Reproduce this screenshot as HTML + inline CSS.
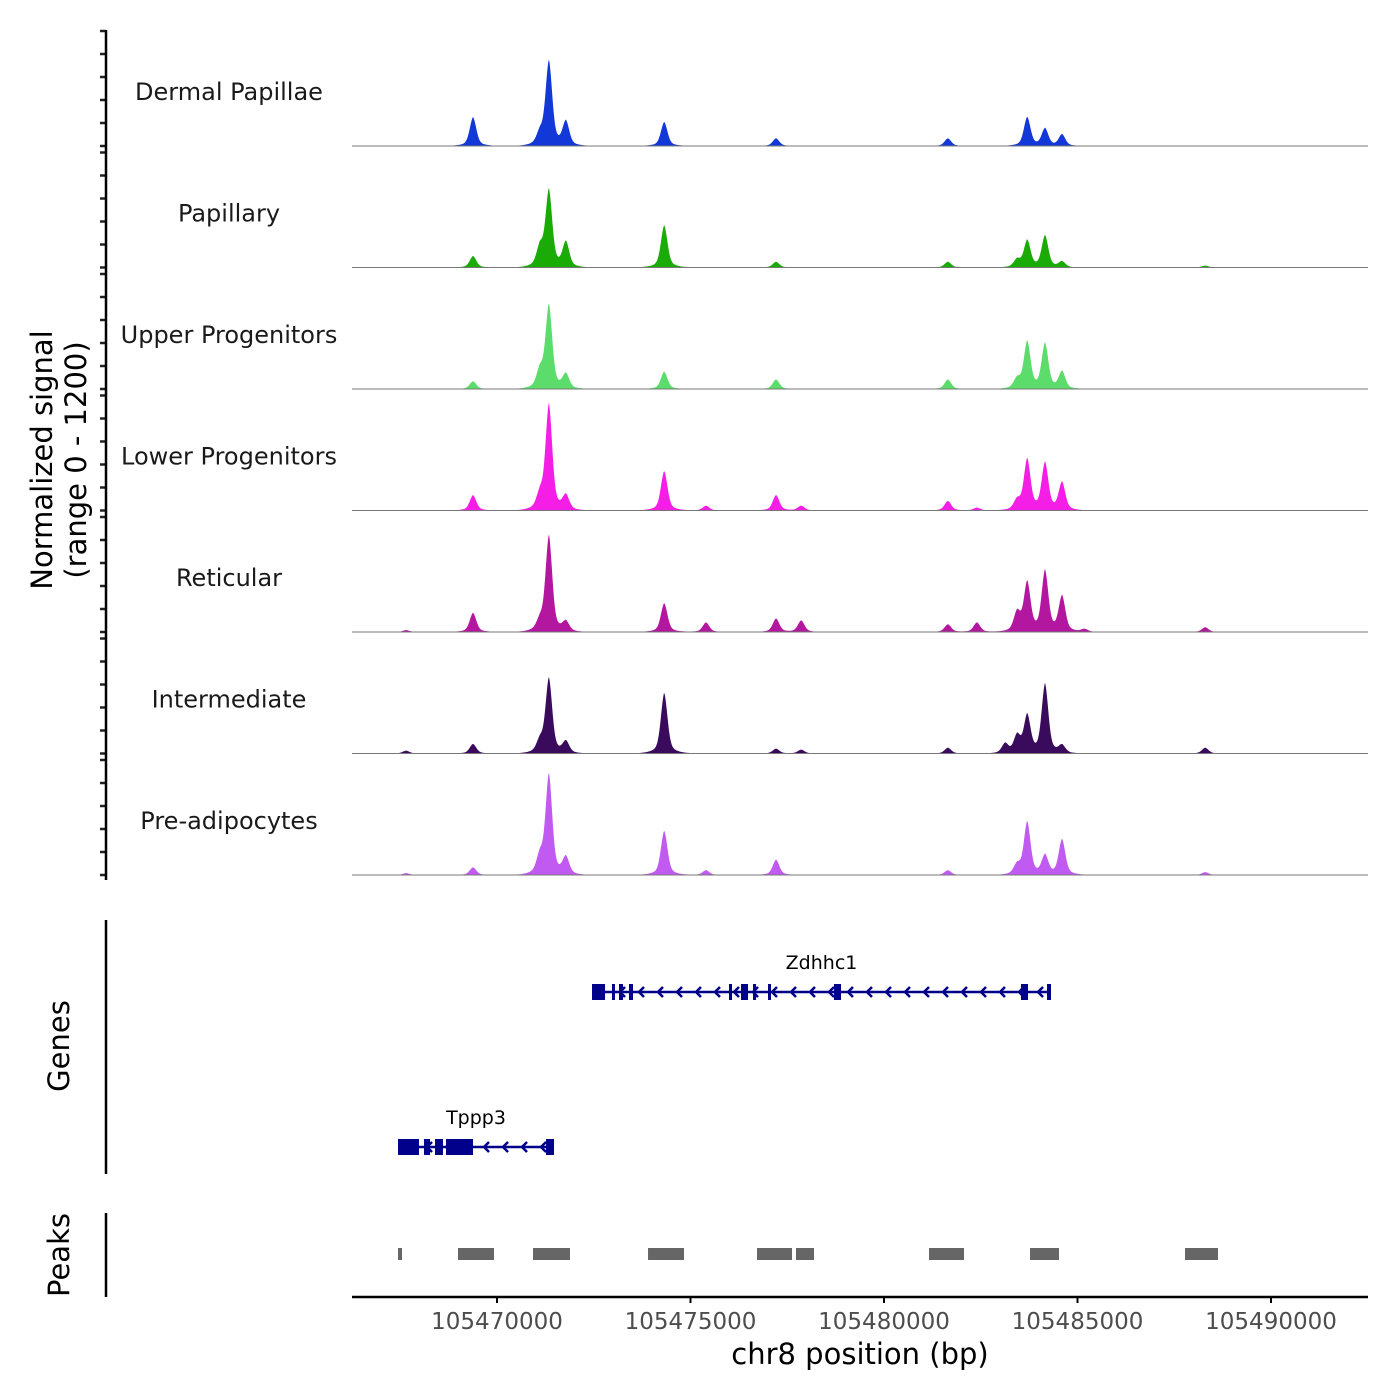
<!DOCTYPE html>
<html><head><meta charset="utf-8"><style>
html,body{margin:0;padding:0;background:#fff;}
svg{display:block;font-family:"DejaVu Sans","Liberation Sans",sans-serif;}
</style></head><body>
<svg id="chart" width="1400" height="1400" viewBox="0 0 1400 1400">
<g id="tracks"></g>
<g id="genes"></g>
<g id="peaks"></g>
<g id="axes"></g>
<text transform="translate(52,460) rotate(-90)" text-anchor="middle" font-size="29" fill="#000">Normalized signal</text>
<text transform="translate(86,460) rotate(-90)" text-anchor="middle" font-size="29" fill="#000">(range 0 - 1200)</text>
<text transform="translate(69,1046) rotate(-90)" text-anchor="middle" font-size="29" fill="#000">Genes</text>
<text transform="translate(69,1255) rotate(-90)" text-anchor="middle" font-size="29" fill="#000">Peaks</text>
<text x="860" y="1364" text-anchor="middle" font-size="29" fill="#000">chr8 position (bp)</text>
</svg>
<script>
const trackNames = ["Dermal Papillae","Papillary","Upper Progenitors","Lower Progenitors","Reticular","Intermediate","Pre-adipocytes"];
const trackColors = ["#1238d8","#1aab07","#5cdc6a","#f41ee6","#b3179f","#3a0a5c","#c05af0"];
const peakPos = [105467650,105469380,105471110,105471340,105471780,105474320,105475400,105477210,105477860,105481650,105482400,105483130,105483440,105483700,105484160,105484600,105485180,105488300];
const dpVals   = [0,300,120,880,250,250,0,80,0,80,0,0,0,300,180,120,0,0];
const papVals  = [0,120,200,800,260,440,0,60,0,60,0,0,80,280,330,60,0,20];
const upVals   = [0,80,180,870,150,180,0,100,0,100,0,0,100,490,470,180,0,0];
const lowVals  = [0,160,150,1100,150,410,50,160,50,100,30,0,100,530,490,290,0,0];
const retVals  = [20,200,100,1000,100,300,100,140,120,80,100,0,200,510,630,370,30,50];
const intVals  = [30,100,120,780,120,630,0,50,40,60,0,100,180,390,720,80,0,60];
const preVals  = [20,80,180,1040,180,460,50,160,0,50,0,0,100,550,200,370,0,30];
const trackVals = [dpVals,papVals,upVals,lowVals,retVals,intVals,preVals];
const xTicks = [105470000,105475000,105480000,105485000,105490000];
const xTickLabels = ["105470000","105475000","105480000","105485000","105490000"];
const genes = ["Zdhhc1","Tppp3"];
const geneStart = [105472455,105467442];
const geneEnd = [105484315,105471473];
const zdExonStart = [105472455,105472971,105473152,105473411,105475995,105476305,105476615,105477002,105478708,105483540,105484212];
const zdExonEnd   = [105472791,105473049,105473256,105473514,105476072,105476486,105476692,105477080,105478889,105483721,105484315];
const tpExonStart = [105467442,105468113,105468398,105468682,105471266];
const tpExonEnd   = [105467984,105468269,105468604,105469380,105471473];
const peakStart = [105467442,105468992,105470930,105473902,105476718,105477726,105481163,105483773,105487778];
const peakEnd   = [105467545,105469922,105471886,105474832,105477623,105478191,105482067,105484522,105488630];

const NS="http://www.w3.org/2000/svg";
function mk(tag,attrs,parent){const e=document.createElementNS(NS,tag);for(const k in attrs)e.setAttribute(k,attrs[k]);parent.appendChild(e);return e;}
const X0=352,X1=1368,BP0=105466253,SC=0.03870;
function xs(bp){return X0+(bp-BP0)*SC;}
const TRACK_H=116;
function yv(v,base){return base-v/1200*TRACK_H;}
const tracksG=document.getElementById('tracks');
const axesG=document.getElementById('axes');

trackNames.forEach((name,i)=>{
  const base=146+i*121.5;
  const vals=trackVals[i];
  let d="M399,"+base;
  for(let x=399;x<=1290;x+=0.5){
    let v=0;
    for(let j=0;j<peakPos.length;j++){
      const dx=x-xs(peakPos[j]);
      v+=vals[j]*(0.7*Math.exp(-(dx*dx)/(2*3.2*3.2))+0.3*Math.exp(-Math.abs(dx)/7));
    }
    d+=" L"+x+","+yv(v,base).toFixed(2);
  }
  d+=" L1290,"+base+" Z";
  const g=mk('g',{},tracksG);
  
  
  const p=mk('path',{d:d,fill:trackColors[i]},g);
  
  
  const bl=mk('line',{x1:X0,x2:X1,y1:base,y2:base,stroke:'#777','stroke-width':1},g);
  
  
  const t=mk('text',{x:229,y:base-46,'text-anchor':'middle','font-size':24,fill:'#1a1a1a'},g);
  t.textContent=name;
  
  
  for(let k=0;k<=5;k++){
    const ty=base-k*23;
    const tk=mk('line',{x1:100,x2:106,y1:ty,y2:ty,stroke:'#222','stroke-width':2.5},axesG);
    
    
  }
});
let ax=mk('line',{x1:106,x2:106,y1:30,y2:880,stroke:'#000','stroke-width':2.5},axesG);

ax=mk('line',{x1:106,x2:106,y1:920,y2:1174,stroke:'#000','stroke-width':2.5},axesG);

ax=mk('line',{x1:106,x2:106,y1:1213,y2:1297,stroke:'#000','stroke-width':2.5},axesG);

ax=mk('line',{x1:X0,x2:X1,y1:1297,y2:1297,stroke:'#000','stroke-width':2.5},axesG);

xTicks.forEach((bp,i)=>{
  const x=xs(bp);
  const tk=mk('line',{x1:x,x2:x,y1:1297,y2:1303,stroke:'#000','stroke-width':2},axesG);
  
  
  const t=mk('text',{x:x,y:1329,'text-anchor':'middle','font-size':23,fill:'#4d4d4d'},axesG);
  t.textContent=xTickLabels[i];
  
  
});

const genesG=document.getElementById('genes');
const geneY=[992,1147];
const exS=[zdExonStart,tpExonStart], exE=[zdExonEnd,tpExonEnd];
genes.forEach((name,i)=>{
  const g=mk('g',{},genesG);
  
  
  const y=geneY[i], x1=xs(geneStart[i]), x2=xs(geneEnd[i]);
  const l=mk('line',{x1:x1,x2:x2,y1:y,y2:y,stroke:'#00008b','stroke-width':2.5},g);
  
  for(let x=x2-12;x>x1+10;x-=19){
    const a=mk('path',{d:`M${x+4},${y-5} L${x-1},${y} L${x+4},${y+5}`,fill:'none',stroke:'#00008b','stroke-width':2.5},g);
    
  }
  exS[i].forEach((s,k)=>{
    const r=mk('rect',{x:xs(s),y:y-8,width:Math.max(3,xs(exE[i][k])-xs(s)),height:16,fill:'#00008b'},g);
    
  });
  const t=mk('text',{x:(x1+x2)/2,y:y-23,'text-anchor':'middle','font-size':19,fill:'#000'},g);
  t.textContent=name;
  
});
const peaksG=document.getElementById('peaks');
peakStart.forEach((s,i)=>{
  const r=mk('rect',{x:xs(s),y:1248,width:Math.max(4,xs(peakEnd[i])-xs(s)),height:12,fill:'#666'},peaksG);
  
  
});
</script>
</body></html>
